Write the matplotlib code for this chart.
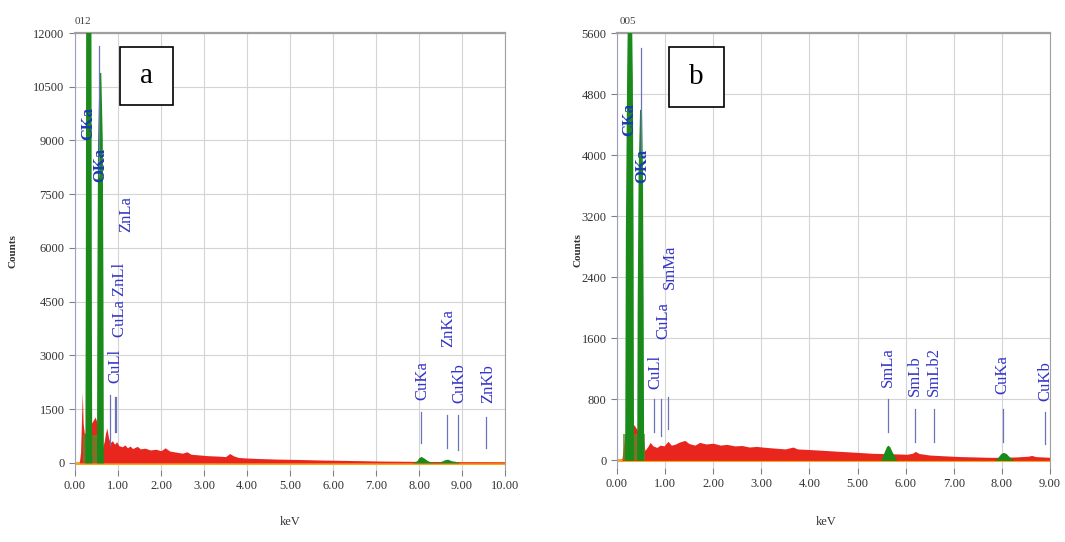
import matplotlib
matplotlib.use("Agg")
import matplotlib.pyplot as plt
from matplotlib.patches import Rectangle

plt.rcParams['font.family'] = ['Liberation Serif', 'DejaVu Serif']

# ---------------- panel a : spectrum ----------------
a_bg_e = [0.10, 0.13, 0.17, 0.19, 0.22, 0.27, 0.33, 0.38, 0.43, 0.47, 0.52, 0.58,
          0.64, 0.68, 0.71, 0.74, 0.78, 0.82, 0.87, 0.92, 0.97, 1.02, 1.10, 1.16, 1.22,
          1.28, 1.34, 1.45, 1.52, 1.63, 1.75, 1.88, 2.00, 2.10, 2.20, 2.35, 2.50,
          2.60, 2.70, 2.90, 3.10, 3.30, 3.50, 3.60, 3.68, 3.80, 4.00, 4.30, 4.70,
          5.20, 5.70, 6.20, 6.70, 7.10, 7.60, 8.00, 8.50, 9.00, 9.50, 10.00]
a_bg_c = [0, 300, 1980, 1100, 800, 900, 1000, 1100, 1200, 1280, 1100, 700,
          420, 600, 820, 975, 700, 560, 620, 520, 590, 480, 450, 500, 420,
          470, 400, 460, 390, 410, 360, 380, 340, 420, 330, 300, 270,
          310, 240, 220, 200, 190, 175, 260, 200, 150, 135, 120, 105,
          95, 80, 70, 60, 50, 45, 40, 35, 30, 28, 25]

# main C / O peak columns
a_pk_e = [0.23, 0.24, 0.25, 0.37, 0.38, 0.39,
          0.50, 0.51, 0.525, 0.56, 0.60, 0.635, 0.65, 0.66]
a_pk_c = [0, 5000, 13500, 13500, 5000, 0,
          0, 5000, 9000, 10900, 10900, 9000, 5000, 0]
# low olive block under the two peaks
a_blk_e = [0.19, 0.19, 0.65, 0.65]
a_blk_c = [0, 780, 780, 0]
# small K peaks
a_k_e = [7.85, 7.95, 8.00, 8.05, 8.12, 8.20, 8.30, 8.45, 8.55, 8.62, 8.67, 8.75, 8.85, 8.95]
a_k_c = [0, 60, 150, 180, 130, 60, 20, 10, 60, 95, 100, 60, 40, 0]

a_ticks_y = [0, 1500, 3000, 4500, 6000, 7500, 9000, 10500, 12000]
a_ticks_x = [0, 1, 2, 3, 4, 5, 6, 7, 8, 9, 10]

a_lab_txt = ["CKa", "OKa", "CuLl", "CuLa ZnLl", "ZnLa", "CuKa", "ZnKa", "CuKb", "ZnKb"]
a_lab_e = [0.30, 0.58, 0.93, 1.05, 1.19, 8.07, 8.67, 8.93, 9.60]
a_lab_c = [9010, 7840, 2230, 3515, 6445, 1760, 3240, 1675, 1675]

a_mk_e = [0.57, 0.81, 0.93, 0.96, 8.04, 8.65, 8.91, 9.56]
a_mk_lo = [8000, 500, 860, 860, 560, 420, 360, 420]
a_mk_hi = [11650, 1900, 1840, 1840, 1420, 1340, 1340, 1280]

# ---------------- panel b ----------------
b_bg_e = [0.10, 0.14, 0.17, 0.20, 0.25, 0.30, 0.35, 0.42, 0.48, 0.55, 0.58, 0.64,
          0.69, 0.75, 0.83, 0.90, 0.98, 1.06, 1.13, 1.20, 1.30, 1.41, 1.50, 1.62,
          1.72, 1.85, 2.00, 2.15, 2.28, 2.45, 2.60, 2.75, 2.90, 3.10, 3.30, 3.50,
          3.66, 3.75, 3.95, 4.20, 4.64, 5.00, 5.33, 5.50, 5.80, 6.03, 6.15, 6.20,
          6.28, 6.50, 6.80, 7.13, 7.45, 7.75, 8.00, 8.30, 8.55, 8.62, 8.70, 9.00]
b_bg_c = [0, 200, 340, 236, 300, 360, 470, 400, 340, 300, 130, 180,
          236, 190, 170, 200, 190, 250, 200, 210, 240, 262, 220, 200,
          236, 215, 225, 200, 210, 190, 195, 175, 183, 170, 160, 150,
          175, 150, 144, 135, 118, 105, 92, 90, 85, 80, 95, 118,
          90, 70, 60, 50, 45, 40, 40, 45, 55, 65, 50, 40]

b_pk_e = [0.16, 0.175, 0.20, 0.22, 0.30, 0.32, 0.335, 0.345,
          0.41, 0.42, 0.44, 0.47, 0.51, 0.53, 0.545, 0.555]
b_pk_c = [0, 3000, 5000, 6000, 6000, 5000, 3000, 0,
          0, 2000, 3800, 4600, 4600, 3800, 2000, 0]
b_blk_e = [0.12, 0.12, 0.58, 0.58]
b_blk_c = [0, 340, 340, 0]
b_k_e = [5.48, 5.56, 5.60, 5.63, 5.67, 5.72, 5.82, 7.85, 7.93, 7.98, 8.03, 8.09, 8.15, 8.25]
b_k_c = [0, 120, 180, 200, 180, 110, 0, 0, 50, 90, 105, 90, 50, 0]

b_ticks_y = [0, 800, 1600, 2400, 3200, 4000, 4800, 5600]
b_ticks_x = [0, 1, 2, 3, 4, 5, 6, 7, 8, 9]

b_lab_txt = ["CKa", "OKa", "CuLl", "CuLa", "SmMa", "SmLa", "SmLb", "SmLb2", "CuKa", "CuKb"]
b_lab_e = [0.25, 0.52, 0.79, 0.96, 1.10, 5.63, 6.19, 6.59, 8.02, 8.90]
b_lab_c = [4245, 3640, 930, 1585, 2240, 956, 838, 838, 865, 773]

b_mk_e = [0.50, 0.77, 0.92, 1.07, 5.63, 6.19, 6.59, 8.02, 8.90]
b_mk_lo = [4000, 367, 315, 406, 367, 236, 236, 236, 210]
b_mk_hi = [5410, 800, 800, 826, 800, 668, 668, 668, 629]

RED = '#e8261e'
GREEN = '#1a8a1a'
OLIVE = '#5a8c2c'
BLUE = '#3434c8'


def draw_panel(ax, bg_e, bg_c, pk_e, pk_c, blk_e, blk_c, k_e, k_c, ticks_x, ticks_y,
               lab_txt, lab_e, lab_c, mk_e, mk_lo, mk_hi, ylo, ylab_x, xlab_pos):
    ax.set_xlim(ticks_x[0], ticks_x[-1])
    ax.set_ylim(ylo, ticks_y[-1])
    ax.set_xticks(ticks_x)
    ax.set_xticklabels(['%.2f' % t for t in ticks_x])
    ax.set_yticks(ticks_y)
    ax.grid(True, color='#d4d4d4', lw=0.8)
    ax.set_axisbelow(True)

    ax.axhline(0, color='#f5a623', lw=2.2, zorder=1)
    ax.fill_between(bg_e, 0, bg_c, color=RED, lw=0, zorder=2)
    ax.fill_between(blk_e, 0, blk_c, color=OLIVE, lw=0, alpha=0.75, zorder=3)
    ax.fill_between(pk_e, 0, pk_c, color=GREEN, lw=0, zorder=3)
    ax.fill_between(k_e, 0, k_c, color=GREEN, lw=0, zorder=3)

    for e, lo, hi in zip(mk_e, mk_lo, mk_hi):
        ax.plot([e, e], [lo, hi], color='#6a74b8', lw=0.9, zorder=4)
    for i, (t, e, c) in enumerate(zip(lab_txt, lab_e, lab_c)):
        ax.text(e, c, t, rotation=90, ha='center', va='bottom',
                color='#1c3cb0' if i < 2 else BLUE,
                fontweight='bold' if i < 2 else 'normal',
                fontsize=12, zorder=5)

    for s in ['top', 'right']:
        ax.spines[s].set_color('#a0a0a0')
    ax.spines['top'].set_linewidth(1.6)
    ax.spines['left'].set_color('#9aa0c0')
    ax.spines['bottom'].set_visible(False)
    ax.tick_params(colors='#808080', labelcolor='#333333', labelsize=9,
                   length=4, width=0.8)
    ax.set_ylabel('Counts', fontsize=8, fontweight='bold', color='#333333')
    ax.yaxis.set_label_coords(ylab_x, 0.5)
    ax.set_xlabel('keV', fontsize=9, color='#333333')
    ax.xaxis.set_label_coords(*xlab_pos)


fig = plt.figure(figsize=(10.65, 5.42), dpi=100)
ax1 = fig.add_axes([0.0704, 0.1328, 0.4038, 0.8063])
ax2 = fig.add_axes([0.5793, 0.1365, 0.4066, 0.8026])

draw_panel(ax1, a_bg_e, a_bg_c, a_pk_e, a_pk_c, a_blk_e, a_blk_c, a_k_e, a_k_c,
           a_ticks_x, a_ticks_y, a_lab_txt, a_lab_e, a_lab_c,
           a_mk_e, a_mk_lo, a_mk_hi, -200, -0.133, (0.5, -0.105))
draw_panel(ax2, b_bg_e, b_bg_c, b_pk_e, b_pk_c, b_blk_e, b_blk_c, b_k_e, b_k_c,
           b_ticks_x, b_ticks_y, b_lab_txt, b_lab_e, b_lab_c,
           b_mk_e, b_mk_lo, b_mk_hi, -100, -0.0785, (0.483, -0.11))

fig.text(83 / 1065, 1 - 22 / 542, '012', fontsize=8, color='#444444', ha='center', va='center')
fig.text(628 / 1065, 1 - 22 / 542, '005', fontsize=8, color='#444444', ha='center', va='center')

for x0, y0, w, h, s in [(120, 47, 53, 58, 'a'), (669, 47, 55, 60, 'b')]:
    fig.patches.append(Rectangle((x0 / 1065, 1 - (y0 + h) / 542), w / 1065, h / 542,
                                 transform=fig.transFigure, fill=True, fc='white',
                                 ec='black', lw=1.2, zorder=10))
    fig.text((x0 + w / 2) / 1065, 1 - (y0 + h / 2) / 542, s, fontsize=21,
             ha='center', va='center', zorder=11)

fig.savefig('out.png', dpi=100)
